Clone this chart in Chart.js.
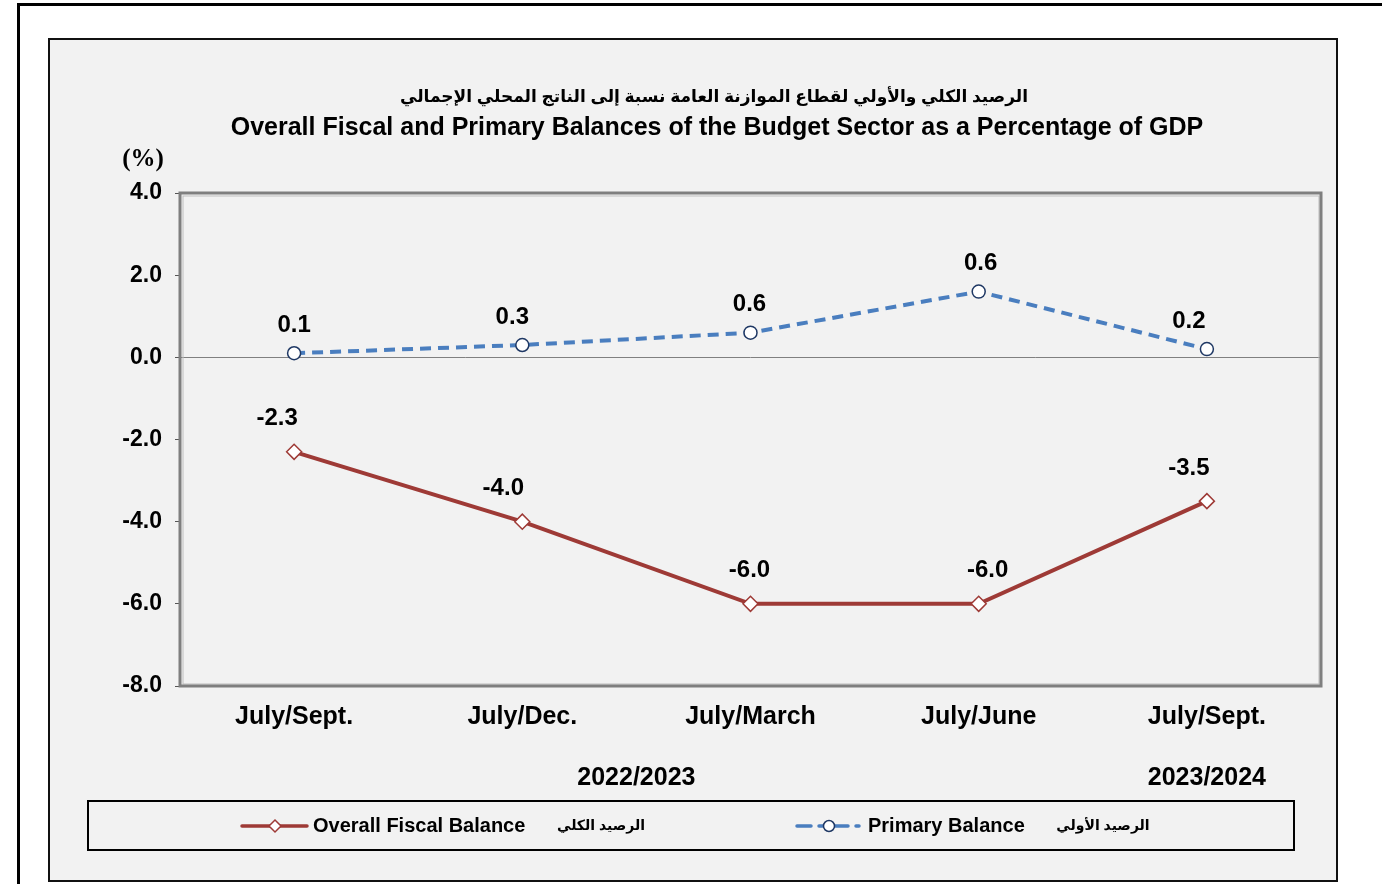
<!DOCTYPE html>
<html>
<head>
<meta charset="utf-8">
<script src="https://cdn.jsdelivr.net/npm/chart.js@4.4.1/dist/chart.umd.min.js"></script>
<style>
html,body{margin:0;padding:0;background:#fff;}
#wrap{position:relative;width:1382px;height:884px;}
</style>
</head>
<body>
<div id="wrap"><canvas id="c" width="1382" height="884"></canvas></div>
<script>
const categories = ["July/Sept.", "July/Dec.", "July/March", "July/June", "July/Sept."];
const fiscalValues = [-2.3, -4.0, -6.0, -6.0, -3.5];
const primaryValues = [0.1, 0.3, 0.6, 1.6, 0.2];
const fiscalLabels = ["-2.3", "-4.0", "-6.0", "-6.0", "-3.5"];
const primaryLabels = ["0.1", "0.3", "0.6", "0.6", "0.2"];
const yTicks = [4, 2, 0, -2, -4, -6, -8];
const titleAr = "الرصيد الكلي والأولي لقطاع الموازنة العامة نسبة إلى الناتج المحلي الإجمالي";
const titleEn = "Overall Fiscal and Primary Balances of the Budget Sector as a Percentage of GDP";
const yearLabels = ["2022/2023", "2023/2024"];
const seriesNamesEn = ["Overall Fiscal Balance", "Primary Balance"];
const seriesNamesAr = ["الرصيد الكلي", "الرصيد الأولي"];

const RED = "#9e3a36";
const BLUE = "#4a7ebf";
const FONT = "'Liberation Sans', Arial, 'DejaVu Sans', sans-serif";

// label offsets (style only)
const fiscalShift = [-17, -19, -1, 9, -18];
const primaryShift = [0, -10, -1, 2, -18];

const framePlugin = {
  id: 'frame',
  beforeDraw(chart) {
    const ctx = chart.ctx;
    ctx.save();
    ctx.fillStyle = '#fff';
    ctx.fillRect(0, 0, 1382, 884);
    // outer black lines
    ctx.fillStyle = '#000';
    ctx.fillRect(17, 3, 1365, 3);
    ctx.fillRect(17, 3, 3, 881);
    // inner frame
    ctx.fillStyle = '#f2f2f2';
    ctx.fillRect(48, 38, 1290, 844);
    ctx.strokeStyle = '#111';
    ctx.lineWidth = 2;
    ctx.strokeRect(49, 39, 1288, 842);
    // titles
    ctx.fillStyle = '#000';
    ctx.textAlign = 'center';
    ctx.textBaseline = 'middle';
    ctx.font = "bold 17px " + FONT;
    ctx.fillText(titleAr, 714, 97);
    ctx.font = "bold 25px " + FONT;
    ctx.fillText(titleEn, 717, 128);
    ctx.font = "bold 25px 'Liberation Serif', 'Times New Roman', serif";
    ctx.fillText("(%)", 143, 160);
    // legend box
    ctx.fillStyle = '#f2f2f2';
    ctx.fillRect(88, 801, 1206, 49);
    ctx.strokeStyle = '#000';
    ctx.lineWidth = 2;
    ctx.strokeRect(88, 801, 1206, 49);
    ctx.restore();
  },
  afterDraw(chart) {
    const ctx = chart.ctx;
    const xs = chart.scales.x;
    ctx.save();
    // year labels
    ctx.fillStyle = '#000';
    ctx.textAlign = 'center';
    ctx.textBaseline = 'middle';
    ctx.font = "bold 25px " + FONT;
    const x0 = xs.getPixelForValue(0), x3 = xs.getPixelForValue(3), x4 = xs.getPixelForValue(4);
    ctx.fillText(yearLabels[0], (x0 + x3) / 2, 778);
    ctx.fillText(yearLabels[1], x4, 778);
    // legend entries
    const ly = 826;
    // fiscal
    ctx.strokeStyle = RED; ctx.lineWidth = 3.5; ctx.lineCap = 'round';
    ctx.beginPath(); ctx.moveTo(242, ly); ctx.lineTo(307, ly); ctx.stroke();
    ctx.fillStyle = '#fff'; ctx.lineWidth = 1.5;
    ctx.beginPath(); ctx.moveTo(275, ly - 6); ctx.lineTo(281, ly); ctx.lineTo(275, ly + 6); ctx.lineTo(269, ly); ctx.closePath(); ctx.fill(); ctx.stroke();
    // primary
    ctx.strokeStyle = BLUE; ctx.lineWidth = 3.5; ctx.lineCap = 'round';
    ctx.beginPath(); ctx.moveTo(797, ly); ctx.lineTo(811, ly); ctx.stroke();
    ctx.beginPath(); ctx.moveTo(819, ly); ctx.lineTo(824, ly); ctx.stroke();
    ctx.beginPath(); ctx.moveTo(835, ly); ctx.lineTo(848, ly); ctx.stroke();
    ctx.beginPath(); ctx.moveTo(856, ly); ctx.lineTo(859, ly); ctx.stroke();
    ctx.fillStyle = '#fff'; ctx.strokeStyle = '#1f3864'; ctx.lineWidth = 1.5;
    ctx.beginPath(); ctx.arc(829, ly, 5.5, 0, Math.PI * 2); ctx.fill(); ctx.stroke();
    ctx.fillStyle = '#000';
    ctx.textAlign = 'left';
    ctx.font = "bold 20px " + FONT;
    ctx.fillText(seriesNamesEn[0], 313, ly);
    ctx.fillText(seriesNamesEn[1], 868, ly);
    ctx.textAlign = 'center';
    ctx.font = "bold 14px " + FONT;
    ctx.fillText(seriesNamesAr[0], 601, ly);
    ctx.fillText(seriesNamesAr[1], 1103, ly);
    ctx.restore();
  },
  beforeDatasetsDraw(chart) {
    const ctx = chart.ctx;
    const a = chart.chartArea;
    ctx.save();
    ctx.strokeStyle = '#bdbdbd';
    ctx.lineWidth = 1;
    ctx.strokeRect(a.left + 3, a.top + 3, a.right - a.left - 5, a.bottom - a.top - 5);
    ctx.strokeStyle = '#7f7f7f';
    ctx.lineWidth = 3;
    ctx.strokeRect(a.left, a.top, a.right - a.left, a.bottom - a.top);
    ctx.restore();
  },
  afterDatasetsDraw(chart) {
    const ctx = chart.ctx;
    ctx.save();
    ctx.fillStyle = '#000';
    ctx.textAlign = 'center';
    ctx.textBaseline = 'middle';
    ctx.font = "bold 24px " + FONT;
    const sets = [[fiscalLabels, fiscalShift, 33], [primaryLabels, primaryShift, 28]];
    sets.forEach((s, i) => {
      const meta = chart.getDatasetMeta(i);
      meta.data.forEach((p, j) => {
        ctx.fillText(s[0][j], p.x + s[1][j], p.y - s[2]);
      });
    });
    ctx.restore();
  }
};

new Chart(document.getElementById('c'), {
  type: 'line',
  data: {
    labels: categories,
    datasets: [
      {
        label: seriesNamesEn[0],
        data: fiscalValues,
        borderColor: RED,
        borderWidth: 4,
        pointStyle: 'rectRot',
        pointRadius: 7.5,
        pointBackgroundColor: '#fff',
        pointBorderColor: RED,
        pointBorderWidth: 1.5,
        tension: 0
      },
      {
        label: seriesNamesEn[1],
        data: primaryValues,
        borderColor: BLUE,
        borderWidth: 4,
        borderDash: [11, 7],
        pointStyle: 'circle',
        pointRadius: 6.5,
        pointBackgroundColor: '#fff',
        pointBorderColor: '#1f3864',
        pointBorderWidth: 1.5,
        tension: 0
      }
    ]
  },
  options: {
    responsive: false,
    animation: false,
    layout: { padding: { left: 80, right: 61, top: 193, bottom: 138 } },
    plugins: { legend: { display: false }, tooltip: { enabled: false }, title: { display: false } },
    scales: {
      x: {
        offset: true,
        grid: { display: false, drawTicks: false },
        border: { display: false },
        ticks: { color: '#000', font: { family: FONT, weight: 'bold', size: 25 }, padding: 16, maxRotation: 0 },
        afterFit(s) { s.height = 60; }
      },
      y: {
        min: -8, max: 4,
        afterBuildTicks(s) { s.ticks = yTicks.map(v => ({ value: v })); },
        grid: {
          color: c => (c.tick && c.tick.value === 0) ? '#808080' : 'rgba(0,0,0,0)',
          lineWidth: 1,
          drawTicks: true,
          tickLength: 5,
          tickColor: '#555',
          tickWidth: 1
        },
        border: { display: false },
        ticks: {
          color: '#000',
          font: { family: FONT, weight: 'bold', size: 23 },
          padding: 13,
          callback: v => Number(v).toFixed(1)
        },
        afterFit(s) { s.width = 100; }
      }
    }
  },
  plugins: [framePlugin]
});
</script>
</body>
</html>
